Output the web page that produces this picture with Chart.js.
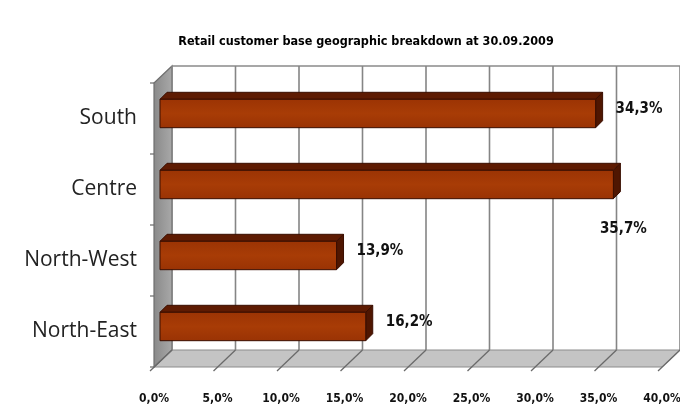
<!DOCTYPE html>
<html>
<head>
<meta charset="utf-8">
<script src="https://cdn.jsdelivr.net/npm/chart.js@4.4.1/dist/chart.umd.min.js"></script>
<style>
  html, body { margin: 0; padding: 0; background: #ffffff; }
  #wrap { width: 680px; height: 407px; }
</style>
</head>
<body>
<div id="wrap"><canvas id="c"></canvas></div>
<script>
// Retail customer base by region, share of total (%)
const categories = ['South', 'Centre', 'North-West', 'North-East'];
const shares = [34.3, 35.7, 13.9, 16.2];
const axisMin = 0;
const axisMax = 40;
const axisStep = 5;
const chartTitle = 'Retail customer base geographic breakdown at 30.09.2009';

const pct = v => Number(v).toFixed(1).replace('.', ',') + '%';

const CONDENSED = '"Liberation Sans Narrow", "DejaVu Sans Condensed", "Liberation Sans", sans-serif';

// 3D look: depth of the wall/floor box and of each bar
const BOX = { dx: 18, dy: 17 };
const BAR_SHIFT = { dx: 6, dy: 5 };
const BAR_DEPTH = { dx: 7, dy: 7 };

function poly(ctx, pts, fill, stroke, lw) {
  ctx.beginPath();
  ctx.moveTo(pts[0][0], pts[0][1]);
  for (let i = 1; i < pts.length; i++) ctx.lineTo(pts[i][0], pts[i][1]);
  ctx.closePath();
  if (fill) { ctx.fillStyle = fill; ctx.fill(); }
  if (stroke) { ctx.strokeStyle = stroke; ctx.lineWidth = lw || 1; ctx.stroke(); }
}

const box3d = {
  id: 'box3d',
  beforeDatasetsDraw(chart) {
    const { ctx, chartArea: a, scales } = chart;
    const xs = scales.x, ys = scales.y;
    ctx.save();
    // floor
    poly(ctx, [[a.left, a.bottom], [a.left + BOX.dx, a.bottom - BOX.dy],
               [a.right + BOX.dx, a.bottom - BOX.dy], [a.right, a.bottom]],
         '#c4c4c4', '#8c8c8c', 1);
    // left wall
    const wg = ctx.createLinearGradient(a.left, 0, a.left + BOX.dx, 0);
    wg.addColorStop(0, '#8a8a8a');
    wg.addColorStop(1, '#a8a8a8');
    poly(ctx, [[a.left, a.top], [a.left + BOX.dx, a.top - BOX.dy],
               [a.left + BOX.dx, a.bottom - BOX.dy], [a.left, a.bottom]],
         wg, '#6f6f6f', 1.2);
    // back wall top edge
    ctx.strokeStyle = '#8a8a8a';
    ctx.lineWidth = 1.5;
    ctx.beginPath();
    ctx.moveTo(a.left + BOX.dx, a.top - BOX.dy);
    ctx.lineTo(a.right + BOX.dx, a.top - BOX.dy);
    ctx.stroke();
    // value grid: back wall verticals, floor diagonals and tick marks
    for (let v = axisMin; v <= axisMax; v += axisStep) {
      const x = xs.getPixelForValue(v);
      ctx.strokeStyle = '#858585';
      ctx.lineWidth = 1.6;
      ctx.beginPath();
      ctx.moveTo(x + BOX.dx, a.top - BOX.dy);
      ctx.lineTo(x + BOX.dx, a.bottom - BOX.dy);
      ctx.stroke();
      ctx.strokeStyle = '#6a6a6a';
      ctx.lineWidth = 1.3;
      ctx.beginPath();
      ctx.moveTo(x + BOX.dx, a.bottom - BOX.dy);
      ctx.lineTo(x - 4, a.bottom + 4);
      ctx.stroke();
    }
    // category tick marks on the left edge
    ctx.strokeStyle = '#6a6a6a';
    ctx.lineWidth = 1.2;
    const n = categories.length;
    for (let i = 0; i <= n; i++) {
      const y = ys.getPixelForValue(i - 0.5);
      ctx.beginPath();
      ctx.moveTo(a.left - 4, y);
      ctx.lineTo(a.left, y);
      ctx.stroke();
    }
    ctx.restore();
  },
  afterDatasetsDraw(chart) {
    const { ctx, chartArea: a } = chart;
    const meta = chart.getDatasetMeta(0);
    ctx.save();
    meta.data.forEach((bar, i) => {
      const p = bar.getProps(['x', 'y', 'base', 'height'], true);
      const l = p.base + BAR_SHIFT.dx, r = p.x + BAR_SHIFT.dx;
      const t = p.y - p.height / 2 - BAR_SHIFT.dy, b = p.y + p.height / 2 - BAR_SHIFT.dy;
      const ddx = BAR_DEPTH.dx, ddy = BAR_DEPTH.dy;
      // top face
      poly(ctx, [[l, t], [l + ddx, t - ddy], [r + ddx, t - ddy], [r, t]], '#5e1b02', '#3a0e00', 1);
      // end face
      poly(ctx, [[r, t], [r + ddx, t - ddy], [r + ddx, b - ddy], [r, b]], '#4f1601', '#3a0e00', 1);
      // front face
      const g = ctx.createLinearGradient(0, t, 0, b);
      g.addColorStop(0, '#9c3404');
      g.addColorStop(0.5, '#a83c06');
      g.addColorStop(1, '#9a3304');
      poly(ctx, [[l, t], [r, t], [r, b], [l, b]], g, '#3a0e00', 1);

      // value label
      const text = pct(shares[i]);
      ctx.font = 'bold 15px ' + CONDENSED;
      ctx.fillStyle = '#111111';
      ctx.textBaseline = 'middle';
      const w = ctx.measureText(text).width;
      let lx = r + 20, ly = (t + b) / 2 - 4;
      if (lx + w > a.right + 8) {
        lx = r - w / 2 + 10;
        ly = b + 30;
      }
      ctx.textAlign = 'left';
      ctx.fillText(text, lx, ly);
    });
    ctx.restore();
  },
  afterDraw(chart) {
    const { ctx } = chart;
    ctx.save();
    ctx.font = 'bold 12.5px ' + CONDENSED;
    ctx.fillStyle = '#000000';
    ctx.textAlign = 'center';
    ctx.textBaseline = 'middle';
    ctx.fillText(chartTitle, 366, 42);
    ctx.restore();
  }
};

new Chart(document.getElementById('c'), {
  type: 'bar',
  data: {
    labels: categories,
    datasets: [{
      data: shares,
      backgroundColor: 'rgba(0,0,0,0)',
      borderWidth: 0,
      barPercentage: 0.8,
      categoryPercentage: 0.5
    }]
  },
  options: {
    indexAxis: 'y',
    responsive: true,
    maintainAspectRatio: false,
    animation: false,
    layout: { padding: { top: 83, right: 18, left: 0, bottom: 0 } },
    plugins: {
      legend: { display: false },
      tooltip: { enabled: false },
      title: { display: false }
    },
    scales: {
      x: {
        min: axisMin,
        max: axisMax,
        grid: { display: false, drawTicks: false },
        border: { display: false },
        ticks: {
          stepSize: axisStep,
          callback: v => pct(v),
          color: '#111111',
          font: { family: CONDENSED, size: 12, weight: 'bold' },
          padding: 25,
          maxRotation: 0
        },
        afterFit: s => { s.height = 40; s.paddingLeft = 0; s.paddingRight = 0; }
      },
      y: {
        grid: { display: false, drawTicks: false },
        border: { display: false },
        ticks: {
          color: '#222222',
          font: { family: '"Open Sans", sans-serif', size: 21 },
          padding: 17
        },
        afterFit: s => { s.width = 154; }
      }
    }
  },
  plugins: [box3d]
});
</script>
</body>
</html>
